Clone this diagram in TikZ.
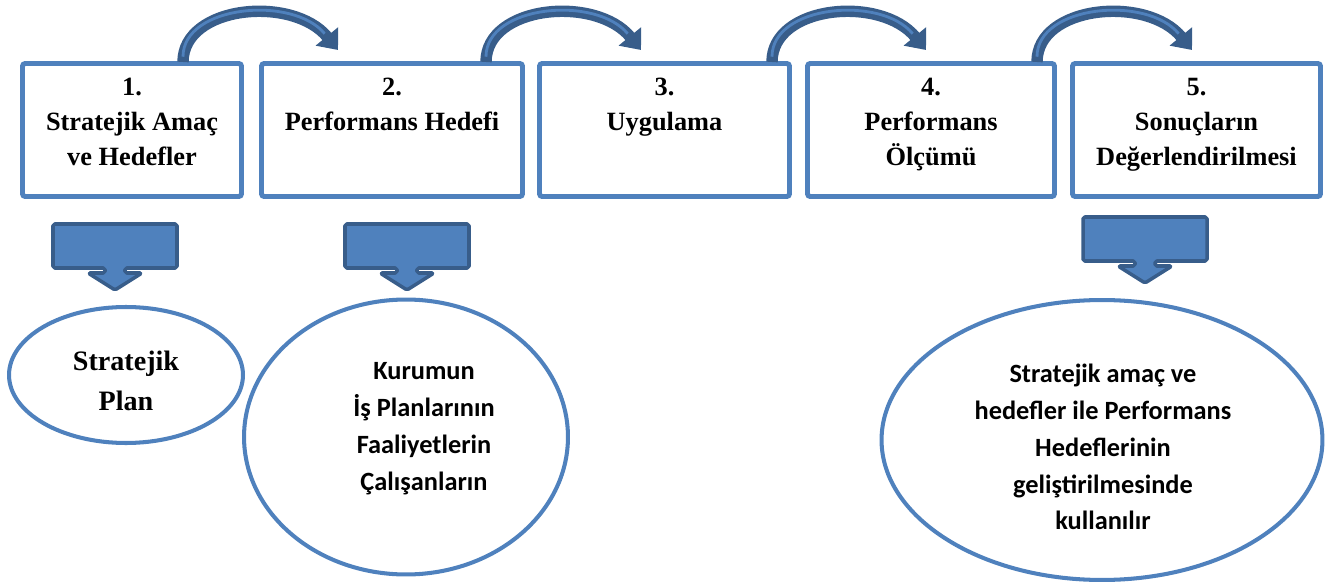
\documentclass[tikz,border=0pt]{standalone}
\usepackage{fontspec}
\setmainfont{Liberation Serif}
\newfontfamily\calibrifont{Carlito}
\usetikzlibrary{shapes.geometric, positioning, arrows.meta}

\definecolor{boxblue}{HTML}{4F81BD}
\definecolor{darkblue}{HTML}{385D8A}

\tikzset{
    stage/.style={draw=boxblue, line width=2.8pt, rounded corners=1.5pt, minimum height=2.66cm, inner sep=0pt},
    stagetext/.style={align=center, inner sep=0pt, font=\fontsize{15}{20}\selectfont\bfseries},
    oval/.style={ellipse, draw=boxblue, line width=2.3pt, inner sep=0pt},
    ovaltext/.style={align=center, inner sep=0pt, font=\calibrifont\fontsize{15}{21}\selectfont\bfseries},
    jump/.style={line width=6.5pt, draw=darkblue, -{Triangle[width=16pt,length=10pt]}},
    jumpglow/.style={line width=1.6pt, draw=boxblue, shorten >=12pt, shorten <=3pt},
    downblock/.style={fill=boxblue, draw=darkblue, line width=2pt, rounded corners=1pt, line join=round}
}

\begin{document}
\begin{tikzpicture}[x=0.02cm, y=-0.02cm]
    \useasboundingbox (0,0) rectangle (1343,588);

    % stages
    \node[stage, minimum width=4.38cm] (st1) at (132,130) {};
    \node[stage, minimum width=5.22cm] (st2) at (392,130) {};
    \node[stage, minimum width=5.00cm] (st3) at (664.5,130) {};
    \node[stage, minimum width=4.94cm] (st4) at (931,130) {};
    \node[stage, minimum width=4.96cm] (st5) at (1196.5,130) {};

    \node[stagetext, below=0.33cm of st1.north] (t1) {1.\\Stratejik Amaç\\ve Hedefler};
    \node[stagetext, below=0.33cm of st2.north] (t2) {2.\\Performans Hedefi};
    \node[stagetext, below=0.33cm of st3.north] (t3) {3.\\Uygulama};
    \node[stagetext, below=0.33cm of st4.north] (t4) {4.\\Performans\\Ölçümü};
    \node[stagetext, below=0.33cm of st5.north] (t5) {5.\\Sonuçların\\Değerlendirilmesi};

    % jumps between stages
    \coordinate (j1s) at (183,62);  \coordinate (j1e) at (338,50);
    \coordinate (j2s) at (486,62);  \coordinate (j2e) at (641,50);
    \coordinate (j3s) at (772,62);  \coordinate (j3e) at (926,50);
    \coordinate (j4s) at (1037,62); \coordinate (j4e) at (1192,50);

    \draw[jump] (j1s) .. controls +(0,-57) and +(-45,-55) .. (j1e);
    \draw[jump] (j2s) .. controls +(0,-57) and +(-45,-55) .. (j2e);
    \draw[jump] (j3s) .. controls +(0,-57) and +(-45,-55) .. (j3e);
    \draw[jump] (j4s) .. controls +(0,-57) and +(-45,-55) .. (j4e);
    \draw[jumpglow] (j1s) .. controls +(0,-57) and +(-45,-55) .. (j1e);
    \draw[jumpglow] (j2s) .. controls +(0,-57) and +(-45,-55) .. (j2e);
    \draw[jumpglow] (j3s) .. controls +(0,-57) and +(-45,-55) .. (j3e);
    \draw[jumpglow] (j4s) .. controls +(0,-57) and +(-45,-55) .. (j4e);

    % block arrows down
    \foreach \cx/\ty in {115/224, 407/224, 1145/217}
        \draw[downblock] (\cx-62,\ty) -- (\cx+62,\ty) -- (\cx+62,\ty+44) -- (\cx+10,\ty+44)
            -- (\cx+10,\ty+49) -- (\cx+27,\ty+49) -- (\cx,\ty+66) -- (\cx-27,\ty+49)
            -- (\cx-10,\ty+49) -- (\cx-10,\ty+44) -- (\cx-62,\ty+44) -- cycle;

    % outcomes
    \node[oval, minimum width=4.68cm, minimum height=2.72cm] (plan) at (126,375) {};
    \node[oval, minimum width=6.48cm, minimum height=5.50cm] (work) at (406,437) {};
    \node[oval, minimum width=8.82cm, minimum height=5.60cm] (use) at (1102,440) {};

    \node[align=center, inner sep=0pt, font=\fontsize{16}{23}\selectfont\bfseries]
        (plantext) at ([shift={(0,6)}]plan.center) {Stratejik\\Plan};
    \node[ovaltext] (worktext) at ([shift={(18,-8)}]work.center)
        {Kurumun\\İş Planlarının\\Faaliyetlerin\\Çalışanların};
    \node[ovaltext] (usetext) at ([shift={(1,7)}]use.center)
        {Stratejik amaç ve\\hedefler ile Performans\\Hedeflerinin\\geliştirilmesinde\\kullanılır};
\end{tikzpicture}
\end{document}
